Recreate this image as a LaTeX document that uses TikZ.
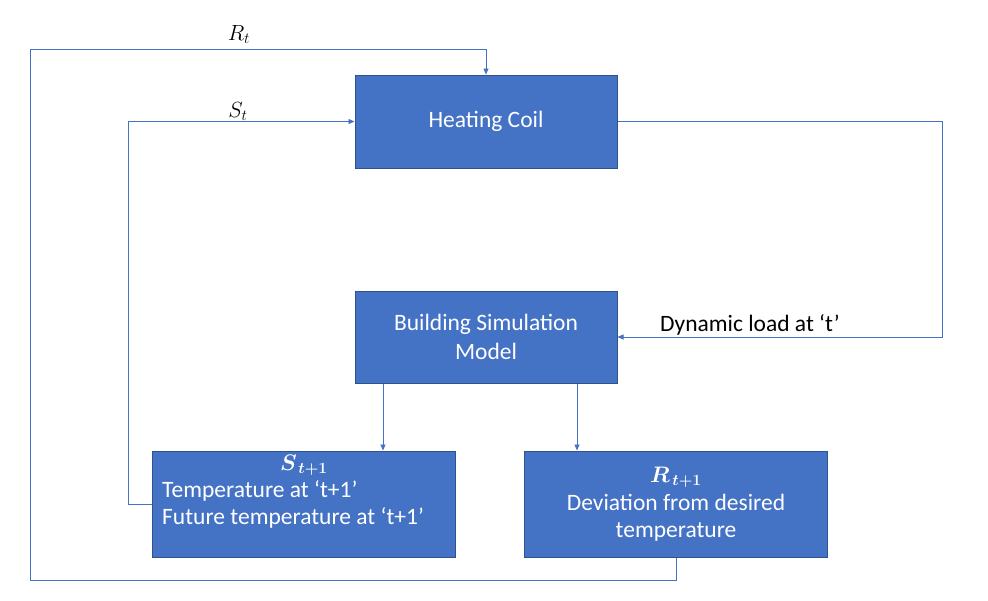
\RequirePackage{fix-cm}
\documentclass[tikz,border=0pt]{standalone}
\usepackage{bm}
\usepackage{graphicx}
\usepackage{fontspec}
\setmainfont{Carlito}
\usetikzlibrary{arrows.meta}
\definecolor{boxblue}{HTML}{4472C4}
\definecolor{boxedge}{HTML}{2F528F}
\begin{document}
\begin{tikzpicture}[x=1pt,y=-1pt,
  blk/.style={draw=boxedge,line width=1pt,fill=boxblue,inner sep=0pt,text=white,
    font=\fontsize{23.5}{29}\selectfont,align=center},
  txt/.style={text=white,font=\fontsize{23.5}{29}\selectfont,inner sep=0pt},
  mlab/.style={font=\fontsize{17.28}{22}\selectfont,inner sep=0pt},
  conn/.style={draw=boxblue,line width=0.8pt,-{Triangle[length=6pt,width=5pt]}}]
\useasboundingbox (0,0) rectangle (988,600);
% boxes
\node[blk,minimum width=262pt,minimum height=93pt] (hc) at (486,121.5) {Heating Coil};
\node[blk,minimum width=262pt,minimum height=92pt] (bsm) at (486,337) {Building Simulation\\Model};
\node[blk,minimum width=303pt,minimum height=106pt] (sbox) at (303.5,504) {};
\node[blk,minimum width=303pt,minimum height=106pt] (rbox) at (676,504) {};
% texts in lower boxes
\node[mlab,text=white,anchor=base] (stitle) at (304,470) {\scalebox{1.3}{$\bm{S}_{\,\bm{t+1}}$}};
\node[txt,anchor=base west] (sl1) at (162,497) {Temperature at ‘t+1’};
\node[txt,anchor=base west] (sl2) at (162,524) {Future temperature at ‘t+1’};
\node[mlab,text=white,anchor=base] (rtitle) at (676,482) {\scalebox{1.3}{$\bm{R}_{\,\bm{t+1}}$}};
\node[txt,anchor=base] (rl1) at (676,510) {Deviation from desired};
\node[txt,anchor=base] (rl2) at (676,537) {temperature};
% labels
\node[mlab,anchor=base] (rtlab) at (239,40) {\scalebox{1.27}{$R_t$}};
\node[mlab,anchor=base] (stlab) at (238,117) {\scalebox{1.27}{$S_t$}};
\node[font=\fontsize{23.5}{29}\selectfont,inner sep=0pt,anchor=base west] (dyn) at (660,331) {Dynamic load at ‘t’};
% connector corners
\coordinate (rlow) at (30,580);
\coordinate (rtop) at (30,49);
\coordinate (sleft) at (128,504);
\coordinate (stop) at (128,121.5);
\coordinate (dright) at (942,121.5);
% connectors
\draw[conn] (rbox.south) |- (rlow) -- (rtop) -| (hc.north);
\draw[conn] (sbox.west) -- (sleft) -- (stop) -- (hc.west);
\draw[conn] (hc.east) -- (dright) |- (bsm.east);
\draw[conn] ([xshift=-103pt]bsm.south) -- ([xshift=-103pt]bsm.south |- sbox.north);
\draw[conn] ([xshift=91pt]bsm.south) -- ([xshift=91pt]bsm.south |- rbox.north);
\end{tikzpicture}
\end{document}
